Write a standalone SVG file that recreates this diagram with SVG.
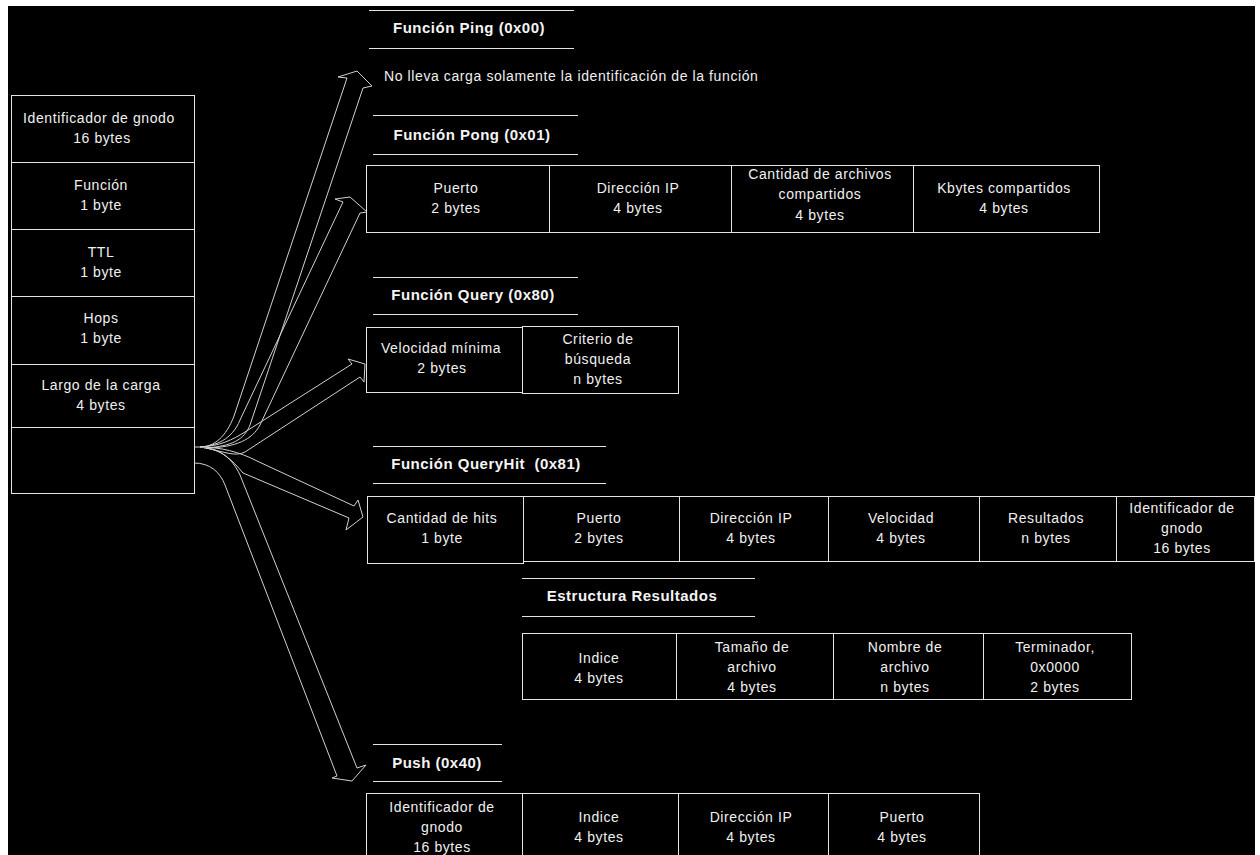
<svg xmlns="http://www.w3.org/2000/svg" width="1260" height="855" viewBox="0 0 1260 855">
<style>
.bx{fill:none;stroke:#e4e4e4;stroke-width:1}
.rl{stroke:#e4e4e4;stroke-width:1}
.t{font-family:"Liberation Sans",Arial,sans-serif;font-size:14px;fill:#f0f0f0;letter-spacing:0.6px;text-anchor:middle}
.h{font-family:"Liberation Sans",Arial,sans-serif;font-size:15px;font-weight:bold;fill:#f4f4f4;letter-spacing:0.5px;text-anchor:middle}
.ar{fill:none;stroke:#d0d0d0;stroke-width:1;stroke-linejoin:miter}
</style>
<rect x="0" y="0" width="1260" height="855" fill="#ffffff"/>
<rect x="8" y="6" width="1247" height="849" fill="#000000"/>

<g id="connectors">
<path class="ar" d="M194 447 L200 447 C214 447 226 437 234 416 L347 78 L338 77 L357 71 L372 86 L363 88 L250 425 C244 440 232 446 206 448"/>
<path class="ar" d="M200 447 C215 446 232 440 240 420 L343 202 L335 199 L350 197 L367 212 L360 213 L260 425 C252 440 236 447 208 448"/>
<path class="ar" d="M200 447 C220 446 232 440 245 432 L352 364 L348 359 L365 364 L364 382 L360 377 L245 452 C235 457 225 452 206 448"/>
<path class="ar" d="M200 447 C220 447 240 452 257 461 L354 506 L358 500 L363 517 L346 530 L349 518 L243 473 C232 460 222 450 206 448"/>
<path class="ar" d="M194 463 C210 463 220 472 225 485 L337 776 L332 778 L352 781 L366 765 L357 768 L240 475 C232 458 220 449 204 448"/>
</g>

<g id="header-fields">
<rect class="bx" x="11.5" y="95.5" width="183" height="67"/>
<rect class="bx" x="11.5" y="162.5" width="183" height="67"/>
<rect class="bx" x="11.5" y="229.5" width="183" height="67"/>
<rect class="bx" x="11.5" y="296.5" width="183" height="68"/>
<rect class="bx" x="11.5" y="364.5" width="183" height="63"/>
<rect class="bx" x="11.5" y="427.5" width="183" height="66"/>
<text class="t" x="99" y="123">Identificador de gnodo</text>
<text class="t" x="102" y="143">16 bytes</text>
<text class="t" x="101" y="190">Función</text>
<text class="t" x="101" y="210">1 byte</text>
<text class="t" x="101" y="257">TTL</text>
<text class="t" x="101" y="277">1 byte</text>
<text class="t" x="101" y="323">Hops</text>
<text class="t" x="101" y="343">1 byte</text>
<text class="t" x="101" y="390">Largo de la carga</text>
<text class="t" x="101" y="410">4 bytes</text>
</g>

<g id="ping">
<line class="rl" x1="369" y1="10.5" x2="574" y2="10.5"/>
<line class="rl" x1="369" y1="48.5" x2="574" y2="48.5"/>
<text class="h" x="469" y="33">Función Ping (0x00)</text>
<text class="t" x="384" y="81" style="text-anchor:start">No lleva carga solamente la identificación de la función</text>
</g>

<g id="pong">
<line class="rl" x1="373" y1="115.5" x2="578" y2="115.5"/>
<line class="rl" x1="373" y1="154.5" x2="578" y2="154.5"/>
<text class="h" x="472" y="140">Función Pong (0x01)</text>
<rect class="bx" x="366.5" y="165.5" width="183" height="67"/>
<rect class="bx" x="549.5" y="165.5" width="182" height="67"/>
<rect class="bx" x="731.5" y="165.5" width="182" height="67"/>
<rect class="bx" x="913.5" y="165.5" width="186" height="67"/>
<text class="t" x="456" y="193">Puerto</text>
<text class="t" x="456" y="213">2 bytes</text>
<text class="t" x="638" y="193">Dirección IP</text>
<text class="t" x="638" y="213">4 bytes</text>
<text class="t" x="820" y="179">Cantidad de archivos</text>
<text class="t" x="820" y="199">compartidos</text>
<text class="t" x="820" y="220">4 bytes</text>
<text class="t" x="1004" y="193">Kbytes compartidos</text>
<text class="t" x="1004" y="213">4 bytes</text>
</g>

<g id="query">
<line class="rl" x1="373" y1="277.5" x2="578" y2="277.5"/>
<line class="rl" x1="373" y1="314.5" x2="578" y2="314.5"/>
<text class="h" x="473" y="300">Función Query (0x80)</text>
<rect class="bx" x="366.5" y="327.5" width="156" height="65"/>
<rect class="bx" x="522.5" y="326.5" width="156" height="67"/>
<text class="t" x="441" y="353">Velocidad mínima</text>
<text class="t" x="442" y="373">2 bytes</text>
<text class="t" x="598" y="344">Criterio de</text>
<text class="t" x="598" y="364">búsqueda</text>
<text class="t" x="598" y="384">n bytes</text>
</g>

<g id="queryhit">
<line class="rl" x1="373" y1="446.5" x2="606" y2="446.5"/>
<line class="rl" x1="373" y1="483.5" x2="606" y2="483.5"/>
<text class="h" x="486" y="469" xml:space="preserve">Función QueryHit  (0x81)</text>
<rect class="bx" x="367.5" y="496.5" width="156" height="67"/>
<rect class="bx" x="523.5" y="496.5" width="156" height="65"/>
<rect class="bx" x="679.5" y="496.5" width="149" height="65"/>
<rect class="bx" x="828.5" y="496.5" width="151" height="65"/>
<rect class="bx" x="979.5" y="496.5" width="137" height="65"/>
<rect class="bx" x="1116.5" y="496.5" width="138" height="65"/>
<text class="t" x="442" y="523">Cantidad de hits</text>
<text class="t" x="442" y="543">1 byte</text>
<text class="t" x="599" y="523">Puerto</text>
<text class="t" x="599" y="543">2 bytes</text>
<text class="t" x="751" y="523">Dirección IP</text>
<text class="t" x="751" y="543">4 bytes</text>
<text class="t" x="901" y="523">Velocidad</text>
<text class="t" x="901" y="543">4 bytes</text>
<text class="t" x="1046" y="523">Resultados</text>
<text class="t" x="1046" y="543">n bytes</text>
<text class="t" x="1182" y="513">Identificador de</text>
<text class="t" x="1182" y="533">gnodo</text>
<text class="t" x="1182" y="553">16 bytes</text>
</g>

<g id="estructura-resultados">
<line class="rl" x1="522" y1="578.5" x2="755" y2="578.5"/>
<line class="rl" x1="522" y1="616.5" x2="755" y2="616.5"/>
<text class="h" x="632" y="601">Estructura Resultados</text>
<rect class="bx" x="522.5" y="633.5" width="154" height="66"/>
<rect class="bx" x="676.5" y="633.5" width="157" height="66"/>
<rect class="bx" x="833.5" y="633.5" width="150" height="66"/>
<rect class="bx" x="983.5" y="633.5" width="148" height="66"/>
<text class="t" x="599" y="663">Indice</text>
<text class="t" x="599" y="683">4 bytes</text>
<text class="t" x="752" y="652">Tamaño de</text>
<text class="t" x="752" y="672">archivo</text>
<text class="t" x="752" y="692">4 bytes</text>
<text class="t" x="905" y="652">Nombre de</text>
<text class="t" x="905" y="672">archivo</text>
<text class="t" x="905" y="692">n bytes</text>
<text class="t" x="1055" y="652">Terminador,</text>
<text class="t" x="1055" y="672">0x0000</text>
<text class="t" x="1055" y="692">2 bytes</text>
</g>

<g id="push">
<line class="rl" x1="373" y1="744.5" x2="502" y2="744.5"/>
<line class="rl" x1="373" y1="781.5" x2="502" y2="781.5"/>
<text class="h" x="437" y="768">Push (0x40)</text>
<rect class="bx" x="366.5" y="793.5" width="156" height="80"/>
<rect class="bx" x="522.5" y="793.5" width="156" height="80"/>
<rect class="bx" x="678.5" y="793.5" width="150" height="80"/>
<rect class="bx" x="828.5" y="793.5" width="151" height="80"/>
<text class="t" x="442" y="812">Identificador de</text>
<text class="t" x="442" y="832">gnodo</text>
<text class="t" x="442" y="852">16 bytes</text>
<text class="t" x="599" y="822">Indice</text>
<text class="t" x="599" y="842">4 bytes</text>
<text class="t" x="751" y="822">Dirección IP</text>
<text class="t" x="751" y="842">4 bytes</text>
<text class="t" x="902" y="822">Puerto</text>
<text class="t" x="902" y="842">4 bytes</text>
</g>
</svg>
